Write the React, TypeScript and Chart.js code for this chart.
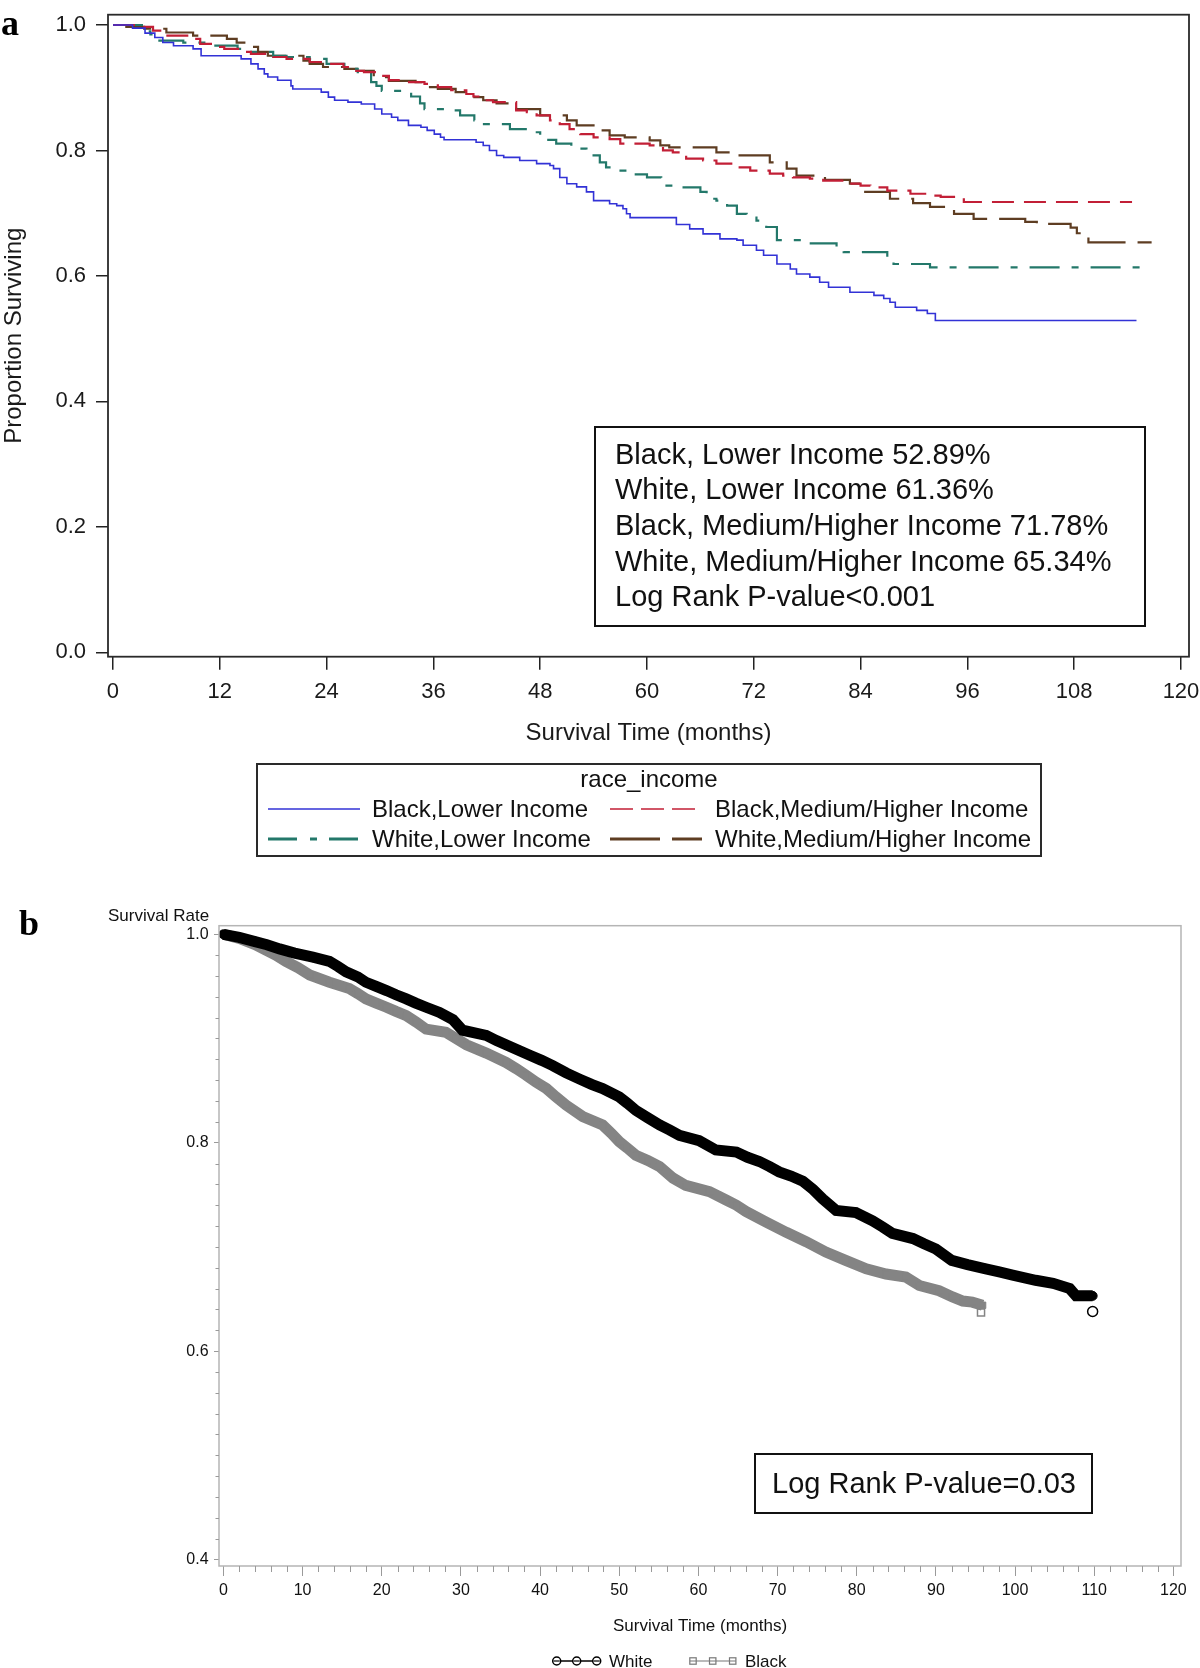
import React, { useEffect, useRef } from 'react';
import { Chart, registerables } from 'chart.js';

Chart.register(...registerables);

const FONT = '"Liberation Sans", Arial, Helvetica, sans-serif';
const SERIF = '"Liberation Serif", "Times New Roman", serif';

// ---------------- Panel a data ----------------
const A_X_TICKS = [0, 12, 24, 36, 48, 60, 72, 84, 96, 108, 120];
const A_Y_TICKS = [0, 0.2, 0.4, 0.6, 0.8, 1.0];
const A_LABELS = ['Black,Lower Income', 'Black,Medium/Higher Income', 'White,Lower Income', 'White,Medium/Higher Income'];
const A_INSET = [
  'Black, Lower Income 52.89%',
  'White, Lower Income 61.36%',
  'Black, Medium/Higher Income 71.78%',
  'White, Medium/Higher Income 65.34%',
  'Log Rank P-value<0.001',
];

// Black, Lower Income (months, survival)
const BL_LOW_T = [0, 2.2, 3.6, 4.7, 5.6, 6.8, 9.0, 9.9, 14.4, 15.5, 16.3, 17.0, 17.4, 18.5, 20.0, 20.2, 23.4, 24.2, 24.9, 26.4, 27.9, 29.4, 30.2, 31.3, 32.0, 33.2, 34.6, 35.3, 36.1, 36.8, 37.2, 40.8, 41.6, 42.3, 43.1, 43.9, 45.7, 47.6, 49.1, 49.5, 50.2, 51.0, 52.1, 53.2, 54.0, 55.8, 56.6, 57.3, 57.7, 58.1, 63.3, 64.8, 66.3, 68.2, 70.1, 70.8, 72.3, 73.1, 74.6, 76.1, 76.8, 78.3, 79.4, 80.4, 82.8, 85.5, 86.6, 87.3, 87.9, 90.3, 91.5, 92.4, 115.0];
const BL_LOW_S = [1.0, 0.995, 0.987, 0.980, 0.972, 0.967, 0.962, 0.951, 0.946, 0.938, 0.930, 0.922, 0.917, 0.912, 0.903, 0.898, 0.893, 0.885, 0.880, 0.877, 0.874, 0.866, 0.858, 0.853, 0.848, 0.840, 0.837, 0.832, 0.826, 0.821, 0.817, 0.813, 0.808, 0.800, 0.792, 0.789, 0.784, 0.779, 0.776, 0.771, 0.757, 0.747, 0.742, 0.734, 0.720, 0.715, 0.712, 0.707, 0.699, 0.693, 0.682, 0.675, 0.667, 0.659, 0.657, 0.649, 0.641, 0.633, 0.619, 0.611, 0.603, 0.598, 0.590, 0.582, 0.574, 0.569, 0.564, 0.558, 0.550, 0.545, 0.540, 0.5289, 0.5289];

// Black, Medium/Higher Income
const BL_MH_T = [0, 2.5, 4.5, 5.9, 9.0, 9.8, 11.0, 12.5, 14.4, 15.5, 18.0, 19.5, 22.1, 23.6, 25.9, 27.0, 28.2, 29.6, 31.0, 32.5, 35.0, 36.5, 38.0, 39.7, 40.5, 41.6, 42.7, 45.3, 46.5, 47.6, 49.1, 50.2, 51.3, 52.5, 54.0, 55.8, 57.0, 60.3, 61.8, 62.9, 64.4, 66.3, 67.8, 70.1, 71.6, 73.8, 75.3, 76.4, 78.3, 79.8, 82.1, 84.0, 85.1, 87.0, 89.6, 91.8, 93.0, 95.6, 114.5];
const BL_MH_S = [1.0, 0.997, 0.991, 0.983, 0.978, 0.970, 0.965, 0.962, 0.957, 0.954, 0.949, 0.946, 0.941, 0.938, 0.933, 0.927, 0.925, 0.919, 0.912, 0.909, 0.906, 0.901, 0.896, 0.890, 0.886, 0.880, 0.877, 0.864, 0.861, 0.856, 0.848, 0.842, 0.834, 0.826, 0.821, 0.818, 0.811, 0.808, 0.800, 0.797, 0.787, 0.784, 0.779, 0.773, 0.768, 0.763, 0.760, 0.757, 0.755, 0.752, 0.747, 0.744, 0.741, 0.736, 0.731, 0.728, 0.726, 0.7178, 0.7178];

// White, Lower Income
const WH_LOW_T = [0, 3.5, 4.2, 4.6, 7.9, 10.9, 14.0, 15.1, 18.0, 19.5, 22.1, 24.0, 26.0, 27.5, 29.0, 29.6, 30.2, 32.5, 33.5, 34.5, 35.0, 37.2, 39.0, 40.6, 41.2, 44.6, 46.7, 48.0, 49.8, 51.5, 53.2, 54.7, 55.4, 56.0, 58.1, 60.0, 61.6, 62.0, 63.8, 66.0, 66.7, 67.8, 69.0, 70.1, 71.2, 72.3, 73.4, 74.6, 77.6, 81.3, 82.1, 87.0, 87.7, 91.8, 115.6];
const WH_LOW_S = [1.0, 0.990, 0.985, 0.975, 0.972, 0.967, 0.962, 0.957, 0.951, 0.949, 0.946, 0.938, 0.930, 0.925, 0.909, 0.903, 0.895, 0.893, 0.886, 0.875, 0.866, 0.864, 0.856, 0.848, 0.842, 0.834, 0.829, 0.817, 0.811, 0.803, 0.792, 0.781, 0.773, 0.768, 0.762, 0.757, 0.747, 0.744, 0.741, 0.734, 0.723, 0.720, 0.712, 0.699, 0.693, 0.688, 0.678, 0.657, 0.652, 0.646, 0.638, 0.630, 0.619, 0.6136, 0.6136];

// White, Medium/Higher Income
const WH_MH_T = [0, 1.5, 3.5, 6.0, 9.0, 12.8, 13.9, 15.0, 16.3, 17.4, 21.4, 22.1, 23.6, 26.0, 27.4, 29.3, 31.0, 34.0, 35.0, 36.5, 38.5, 39.7, 40.6, 41.6, 43.1, 45.3, 48.0, 51.0, 52.1, 54.3, 55.8, 57.5, 60.3, 61.5, 62.5, 67.8, 69.7, 73.8, 75.7, 76.8, 80.0, 82.8, 84.3, 87.3, 89.9, 91.8, 94.5, 96.7, 102.5, 103.8, 107.6, 108.3, 109.6, 116.7];
const WH_MH_S = [1.0, 0.997, 0.994, 0.988, 0.983, 0.978, 0.972, 0.965, 0.957, 0.951, 0.943, 0.938, 0.933, 0.930, 0.927, 0.917, 0.911, 0.909, 0.901, 0.898, 0.893, 0.888, 0.885, 0.880, 0.875, 0.866, 0.856, 0.848, 0.840, 0.832, 0.824, 0.821, 0.816, 0.808, 0.805, 0.797, 0.792, 0.781, 0.771, 0.760, 0.753, 0.747, 0.734, 0.723, 0.716, 0.710, 0.699, 0.691, 0.686, 0.683, 0.677, 0.668, 0.6534, 0.6534];

// ---------------- Panel b data ----------------
const B_X_TICKS = [0, 10, 20, 30, 40, 50, 60, 70, 80, 90, 100, 110, 120];
const B_Y_TICKS = [0.4, 0.6, 0.8, 1.0];
const B_LABELS = ['White', 'Black'];

const WHITE_T = [0, 2, 4, 5.5, 7.1, 9, 11.3, 13.4, 14.5, 15.5, 17, 18, 19.3, 20.6, 21.8, 23.1, 24.3, 25.6, 27.3, 29, 30.2, 33.2, 34.5, 35.7, 37.2, 38.7, 40.2, 41.6, 43.3, 45, 46.5, 47.9, 50, 51, 52.1, 53.6, 55.1, 56.4, 57.6, 60.1, 62.2, 64.8, 66.2, 67.7, 69, 70.2, 71.7, 73.2, 74.5, 75.7, 77.4, 79.9, 82, 83.3, 84.5, 87.1, 88.5, 90, 92, 94, 96.3, 98, 99.7, 102.6, 104.8, 106.9, 107.7, 109.8];
const WHITE_S = [1.0, 0.997, 0.993, 0.990, 0.986, 0.982, 0.978, 0.974, 0.969, 0.964, 0.959, 0.954, 0.950, 0.946, 0.942, 0.938, 0.934, 0.930, 0.925, 0.918, 0.908, 0.903, 0.898, 0.894, 0.889, 0.884, 0.879, 0.874, 0.867, 0.861, 0.856, 0.852, 0.844, 0.838, 0.831, 0.824, 0.817, 0.812, 0.807, 0.802, 0.793, 0.791, 0.786, 0.782, 0.777, 0.772, 0.768, 0.763, 0.755, 0.746, 0.735, 0.733, 0.725, 0.719, 0.713, 0.708, 0.703, 0.698, 0.687, 0.683, 0.679, 0.676, 0.673, 0.668, 0.665, 0.660, 0.653, 0.653];
const WHITE_LAST_T = [109.8];
const WHITE_LAST_S = [0.638];

const BLACK_T = [0, 2, 4, 5.3, 6.6, 7.9, 9.4, 10.9, 13.4, 15.9, 17, 18, 19.3, 20.6, 21.8, 23.1, 24.3, 25.6, 28.1, 29.4, 30.7, 33.2, 35.7, 37, 38.2, 39.5, 40.8, 42, 43.3, 45.4, 47.9, 49, 50, 51, 52.1, 53.6, 55.1, 56.8, 58.4, 61.4, 63.5, 64.8, 66, 68.5, 71.1, 73.6, 76.1, 78.6, 81.2, 83.7, 86.2, 87.9, 90.4, 92.1, 93.4, 94.6, 95.9];
const BLACK_S = [1.0, 0.996, 0.990, 0.985, 0.980, 0.974, 0.968, 0.961, 0.954, 0.948, 0.943, 0.938, 0.934, 0.930, 0.926, 0.922, 0.916, 0.909, 0.906, 0.900, 0.894, 0.886, 0.877, 0.871, 0.865, 0.858, 0.852, 0.844, 0.836, 0.825, 0.817, 0.809, 0.801, 0.795, 0.788, 0.783, 0.777, 0.766, 0.759, 0.753, 0.745, 0.740, 0.734, 0.724, 0.714, 0.705, 0.695, 0.687, 0.679, 0.674, 0.671, 0.663, 0.658, 0.652, 0.648, 0.647, 0.644];
const BLACK_LAST_T = [95.7];
const BLACK_LAST_S = [0.637];

// ---------------- styles ----------------
const C_BLUE = '#3232d6';
const C_RED = '#c21f36';
const C_TEAL = '#23786a';
const C_BROWN = '#5e3d22';

const pts = (t: number[], s: number[]) => t.map((x, i) => ({ x, y: s[i] }));

const noPad = (s: any) => {
  s.paddingTop = 0;
  s.paddingBottom = 0;
  s.paddingLeft = 0;
  s.paddingRight = 0;
};

const framePlugin = (id: string, color: string, width: number) => ({
  id,
  afterDatasetsDraw(chart: any) {
    const { ctx, chartArea } = chart;
    const { left, top, right, bottom } = chartArea;
    ctx.save();
    ctx.strokeStyle = color;
    ctx.lineWidth = width;
    ctx.strokeRect(left, top, right - left, bottom - top);
    ctx.restore();
  },
});

const minorTicksPlugin = {
  id: 'minorTicksB',
  afterDraw(chart: any) {
    const { ctx, chartArea, scales } = chart;
    ctx.save();
    ctx.strokeStyle = '#9a9a9a';
    ctx.lineWidth = 1;
    ctx.beginPath();
    for (let v = 2; v < 120; v += 2) {
      if (v % 10 === 0) continue;
      const px = Math.round(scales.x.getPixelForValue(v)) + 0.5;
      ctx.moveTo(px, chartArea.bottom);
      ctx.lineTo(px, chartArea.bottom + 6);
    }
    for (let i = 21; i < 50; i++) {
      if (i === 30 || i === 40) continue;
      const py = Math.round(scales.y.getPixelForValue(i / 50)) + 0.5;
      ctx.moveTo(chartArea.left - 3.5, py);
      ctx.lineTo(chartArea.left, py);
    }
    ctx.stroke();
    ctx.restore();
  },
};

function Txt(props: { left?: number; cx?: number; cy: number; size: number; children: any; family?: string; weight?: any; color?: string }) {
  const { left, cx, cy, size, children, family, weight, color } = props;
  const style: any = {
    position: 'absolute',
    top: cy - size / 2,
    height: size,
    lineHeight: `${size}px`,
    fontSize: size,
    fontFamily: family || FONT,
    fontWeight: weight || 'normal',
    color: color || '#111',
    whiteSpace: 'nowrap',
  };
  if (cx !== undefined) {
    style.left = cx - 400;
    style.width = 800;
    style.textAlign = 'center';
  } else {
    style.left = left;
  }
  return <div style={style}>{children}</div>;
}

export default function App() {
  const refA = useRef<HTMLCanvasElement>(null);
  const refB = useRef<HTMLCanvasElement>(null);

  useEffect(() => {
    document.body.style.margin = '0';
    const lineDs = (label: string, t: number[], s: number[], color: string, width: number, dash: number[]) => ({
      label,
      data: pts(t, s),
      borderColor: color,
      backgroundColor: color,
      borderWidth: width,
      borderDash: dash,
      stepped: 'before',
      pointRadius: 0,
      fill: false,
    });

    const bandDs = (label: string, t: number[], s: number[], color: string, style: string) => ({
      label,
      data: pts(t, s),
      borderColor: color,
      backgroundColor: color,
      borderWidth: 11,
      borderJoinStyle: 'miter',
      borderCapStyle: 'butt',
      tension: 0,
      pointStyle: style,
      pointRadius: 4.5,
      pointBorderWidth: 1,
      pointBorderColor: color,
      pointBackgroundColor: color,
      fill: false,
    });

    const chartA = new Chart(refA.current as HTMLCanvasElement, {
      type: 'line',
      data: {
        datasets: [
          lineDs(A_LABELS[0], BL_LOW_T, BL_LOW_S, C_BLUE, 1.6, []),
          lineDs(A_LABELS[1], BL_MH_T, BL_MH_S, C_RED, 2.2, [22, 10]),
          lineDs(A_LABELS[2], WH_LOW_T, WH_LOW_S, C_TEAL, 2.2, [30, 12, 7, 12]),
          lineDs(A_LABELS[3], WH_MH_T, WH_MH_S, C_BROWN, 2.2, [42, 12]),
        ] as any,
      },
      options: {
        animation: false,
        responsive: false,
        devicePixelRatio: 1,
        layout: { padding: { left: 0, top: 14.7, right: 11, bottom: 132.6 } },
        plugins: { legend: { display: false }, tooltip: { enabled: false } },
        scales: {
          x: {
            type: 'linear',
            min: -0.56,
            max: 120.9,
            afterBuildTicks: (s: any) => { s.ticks = A_X_TICKS.map((v) => ({ value: v })); },
            afterFit: (s: any) => { s.height = 90.7; noPad(s); },
            grid: { drawOnChartArea: false, drawTicks: true, tickLength: 13, color: '#222', lineWidth: 1.5 },
            border: { display: false },
            ticks: { autoSkip: false, maxRotation: 0, padding: 9, color: '#1a1a1a', font: { family: FONT, size: 22 }, callback: (v: any) => String(v) },
            title: { display: true, text: 'Survival Time (months)', color: '#1a1a1a', font: { family: FONT, size: 24 }, padding: 0 },
          },
          y: {
            type: 'linear',
            min: -0.007,
            max: 1.0164,
            afterBuildTicks: (s: any) => { s.ticks = A_Y_TICKS.map((v) => ({ value: v })); },
            afterFit: (s: any) => { s.width = 108; noPad(s); },
            grid: { drawOnChartArea: false, drawTicks: true, tickLength: 12, color: '#222', lineWidth: 1.5 },
            border: { display: false },
            ticks: { autoSkip: false, padding: 10, color: '#1a1a1a', font: { family: FONT, size: 22 }, callback: (v: any) => Number(v).toFixed(1) },
            title: { display: true, text: 'Proportion Surviving', color: '#1a1a1a', font: { family: FONT, size: 24 }, padding: 0 },
          },
        },
      } as any,
      plugins: [framePlugin('frameA', '#2a2a2a', 1.8)],
    });

    const chartB = new Chart(refB.current as HTMLCanvasElement, {
      type: 'line',
      data: {
        datasets: [
          bandDs(B_LABELS[0], WHITE_T, WHITE_S, '#000', 'circle'),
          {
            label: B_LABELS[0] + ' (last)',
            data: pts(WHITE_LAST_T, WHITE_LAST_S),
            showLine: false,
            pointStyle: 'circle',
            pointRadius: 5,
            pointBorderWidth: 1.5,
            pointBorderColor: '#000',
            pointBackgroundColor: '#fff',
          },
          bandDs(B_LABELS[1], BLACK_T, BLACK_S, '#848484', 'rect'),
          {
            label: B_LABELS[1] + ' (last)',
            data: pts(BLACK_LAST_T, BLACK_LAST_S),
            showLine: false,
            pointStyle: 'rect',
            pointRadius: 5,
            pointBorderWidth: 1.5,
            pointBorderColor: '#848484',
            pointBackgroundColor: '#fff',
          },
        ] as any,
      },
      options: {
        animation: false,
        responsive: false,
        devicePixelRatio: 1,
        layout: { padding: { left: 0, top: 45.7, right: 19, bottom: 31.1 } },
        plugins: { legend: { display: false }, tooltip: { enabled: false } },
        scales: {
          x: {
            type: 'linear',
            min: -0.555,
            max: 120.96,
            afterBuildTicks: (s: any) => { s.ticks = B_X_TICKS.map((v) => ({ value: v })); },
            afterFit: (s: any) => { s.height = 70.9; noPad(s); },
            grid: { drawOnChartArea: false, drawTicks: true, tickLength: 10, color: '#9a9a9a', lineWidth: 1 },
            border: { display: false },
            ticks: { autoSkip: false, maxRotation: 0, padding: 5, color: '#111', font: { family: FONT, size: 16 }, callback: (v: any) => String(v) },
            title: { display: true, text: 'Survival Time (months)', color: '#111', font: { family: FONT, size: 17 }, padding: 0 },
          },
          y: {
            type: 'linear',
            min: 0.39376,
            max: 1.00825,
            afterBuildTicks: (s: any) => { s.ticks = B_Y_TICKS.map((v) => ({ value: v })); },
            afterFit: (s: any) => { s.width = 219; noPad(s); },
            grid: { drawOnChartArea: false, drawTicks: true, tickLength: 5, color: '#9a9a9a', lineWidth: 1 },
            border: { display: false },
            ticks: { autoSkip: false, padding: 5.4, color: '#111', font: { family: FONT, size: 16 }, callback: (v: any) => Number(v).toFixed(1) },
            title: { display: false },
          },
        },
      } as any,
      plugins: [framePlugin('frameB', '#b5b5b5', 1.5), minorTicksPlugin],
    });

    return () => {
      chartA.destroy();
      chartB.destroy();
    };
  }, []);

  const insetA = A_INSET.map((line, i) => (
    <Txt key={line} left={615} cy={454.3 + i * 35.6} size={29}>{line}</Txt>
  ));

  return (
    <div style={{ position: 'absolute', left: 0, top: 0, width: 1200, height: 1668, overflow: 'hidden', background: '#fff', fontFamily: FONT }}>
      <canvas ref={refA} width={1200} height={880} style={{ position: 'absolute', left: 0, top: 0, width: 1200, height: 880, display: 'block' }} />
      <canvas ref={refB} width={1200} height={788} style={{ position: 'absolute', left: 0, top: 880, width: 1200, height: 788, display: 'block' }} />

      {/* panel letters */}
      <Txt left={1} cy={23} size={36} family={SERIF} weight="bold" color="#000">a</Txt>
      <Txt left={19} cy={923} size={36} family={SERIF} weight="bold" color="#000">b</Txt>

      {/* panel a inset */}
      <div style={{ position: 'absolute', left: 594, top: 426, width: 552, height: 201, boxSizing: 'border-box', border: '2px solid #111' }} />
      {insetA}

      {/* panel a legend */}
      <div style={{ position: 'absolute', left: 256, top: 763, width: 786, height: 94, boxSizing: 'border-box', border: '2px solid #2a2a2a' }} />
      <Txt cx={649} cy={779} size={24}>race_income</Txt>
      <svg width={1200} height={880} style={{ position: 'absolute', left: 0, top: 0, pointerEvents: 'none' }}>
        <line x1={268} y1={809} x2={360} y2={809} stroke={C_BLUE} strokeWidth={1.6} />
        <line x1={610} y1={809} x2={697} y2={809} stroke={C_RED} strokeWidth={1.6} strokeDasharray="23 8" />
        <line x1={268} y1={839} x2={360} y2={839} stroke={C_TEAL} strokeWidth={3} strokeDasharray="29 13 7 12" />
        <line x1={610} y1={839} x2={702} y2={839} stroke={C_BROWN} strokeWidth={3} strokeDasharray="50 12" />
      </svg>
      <Txt left={372} cy={809} size={24}>{A_LABELS[0]}</Txt>
      <Txt left={715} cy={809} size={24}>{A_LABELS[1]}</Txt>
      <Txt left={372} cy={839} size={24}>{A_LABELS[2]}</Txt>
      <Txt left={715} cy={839} size={24}>{A_LABELS[3]}</Txt>

      {/* panel b */}
      <Txt left={108} cy={915} size={17}>Survival Rate</Txt>
      <div style={{ position: 'absolute', left: 754, top: 1453, width: 339, height: 61, boxSizing: 'border-box', border: '2px solid #111' }} />
      <Txt cx={924} cy={1483} size={29}>Log Rank P-value=0.03</Txt>

      <svg width={1200} height={1668} style={{ position: 'absolute', left: 0, top: 0, pointerEvents: 'none' }}>
        <line x1={553} y1={1661} x2={600} y2={1661} stroke="#000" strokeWidth={1.5} />
        {[556.7, 576.7, 596.7].map((x) => (
          <g key={x}>
            <circle cx={x} cy={1661} r={4} fill="#fff" stroke="#000" strokeWidth={1.5} />
            <line x1={x - 3} y1={1661} x2={x + 3} y2={1661} stroke="#000" strokeWidth={1.2} />
          </g>
        ))}
        <line x1={690} y1={1661} x2={736} y2={1661} stroke="#777" strokeWidth={1.2} />
        {[693, 712.7, 732.7].map((x) => (
          <g key={x}>
            <rect x={x - 3.2} y={1657.8} width={6.4} height={6.4} fill="#fff" stroke="#777" strokeWidth={1.2} />
            <line x1={x - 3} y1={1661} x2={x + 3} y2={1661} stroke="#777" strokeWidth={1} />
          </g>
        ))}
      </svg>
      <Txt left={609} cy={1661} size={17}>{B_LABELS[0]}</Txt>
      <Txt left={745} cy={1661} size={17}>{B_LABELS[1]}</Txt>
    </div>
  );
}
